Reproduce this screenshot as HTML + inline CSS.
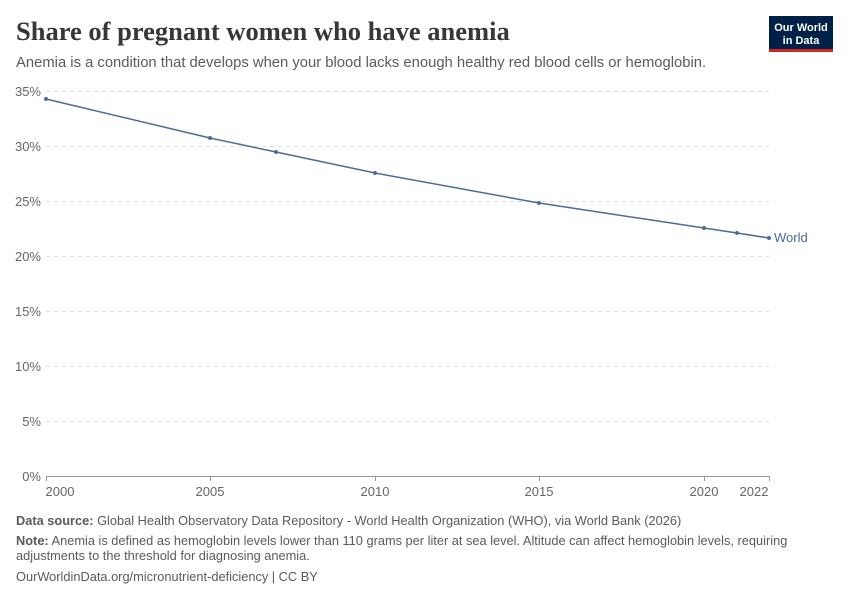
<!DOCTYPE html>
<html><head><meta charset="utf-8"><style>
body{margin:0;background:#fff;width:850px;height:600px;overflow:hidden;font-family:"Liberation Sans",sans-serif}
</style></head><body>
<svg width="850" height="600" xmlns="http://www.w3.org/2000/svg" font-family="Liberation Sans, sans-serif">
<text x="16" y="40" font-family="Liberation Serif, serif" font-size="26.5" font-weight="bold" fill="#373737">Share of pregnant women who have anemia</text>
<text x="16" y="67" font-size="14.8" fill="#5b5b5b">Anemia is a condition that develops when your blood lacks enough healthy red blood cells or hemoglobin.</text>
<rect x="769" y="16" width="64" height="34" fill="#002147"/>
<rect x="769" y="49" width="64" height="3" fill="#ce261e"/>
<text x="801" y="31" font-size="11" font-weight="bold" fill="#fff" text-anchor="middle">Our World</text>
<text x="801" y="44" font-size="11" font-weight="bold" fill="#fff" text-anchor="middle">in Data</text>
<g stroke="#ddd" stroke-dasharray="4,4" stroke-width="1">
<line x1="46" x2="769" y1="91.5" y2="91.5"/><line x1="46" x2="769" y1="146.5" y2="146.5"/>
<line x1="46" x2="769" y1="201.5" y2="201.5"/><line x1="46" x2="769" y1="256.5" y2="256.5"/>
<line x1="46" x2="769" y1="311.5" y2="311.5"/><line x1="46" x2="769" y1="366.5" y2="366.5"/>
<line x1="46" x2="769" y1="421.5" y2="421.5"/>
</g>
<line x1="46" x2="769" y1="476.5" y2="476.5" stroke="#999"/>
<g stroke="#999"><line x1="46.5" x2="46.5" y1="476" y2="481"/><line x1="210.5" x2="210.5" y1="476" y2="481"/><line x1="375.5" x2="375.5" y1="476" y2="481"/><line x1="539.5" x2="539.5" y1="476" y2="481"/><line x1="704.5" x2="704.5" y1="476" y2="481"/><line x1="769.5" x2="769.5" y1="476" y2="481"/></g>
<g font-size="13" fill="#666" text-anchor="end">
<text x="41" y="96">35%</text><text x="41" y="151">30%</text><text x="41" y="206">25%</text><text x="41" y="261">20%</text><text x="41" y="316">15%</text><text x="41" y="371">10%</text><text x="41" y="426">5%</text><text x="41" y="481">0%</text>
</g>
<g font-size="13" fill="#666" text-anchor="middle">
<text x="60" y="496">2000</text><text x="210" y="496">2005</text><text x="375" y="496">2010</text><text x="539" y="496">2015</text><text x="704" y="496">2020</text><text x="754" y="496">2022</text>
</g>
<polyline fill="none" stroke="#4c6a9c" stroke-width="1.5" points="46,99 210,138 276,152 375,173 539,203 704,228 737,233 769,238"/>
<g fill="#4c6a9c"><circle cx="46" cy="99" r="2"/><circle cx="210" cy="138" r="2"/><circle cx="276" cy="152" r="2"/><circle cx="375" cy="173" r="2"/><circle cx="539" cy="203" r="2"/><circle cx="704" cy="228" r="2"/><circle cx="737" cy="233" r="2"/><circle cx="769" cy="238" r="2"/></g>
<text x="774" y="242" font-size="13" fill="#4c6a9c">World</text>
<text x="16" y="525" font-size="12.8" fill="#5b5b5b"><tspan font-weight="bold">Data source:</tspan> Global Health Observatory Data Repository - World Health Organization (WHO), via World Bank (2026)</text>
<text x="16" y="545" font-size="12.8" fill="#5b5b5b"><tspan font-weight="bold">Note:</tspan> Anemia is defined as hemoglobin levels lower than 110 grams per liter at sea level. Altitude can affect hemoglobin levels, requiring</text>
<text x="16" y="560" font-size="12.8" fill="#5b5b5b">adjustments to the threshold for diagnosing anemia.</text>
<text x="16" y="581" font-size="12.8" fill="#5b5b5b">OurWorldinData.org/micronutrient-deficiency | CC BY</text>
</svg>
</body></html>
